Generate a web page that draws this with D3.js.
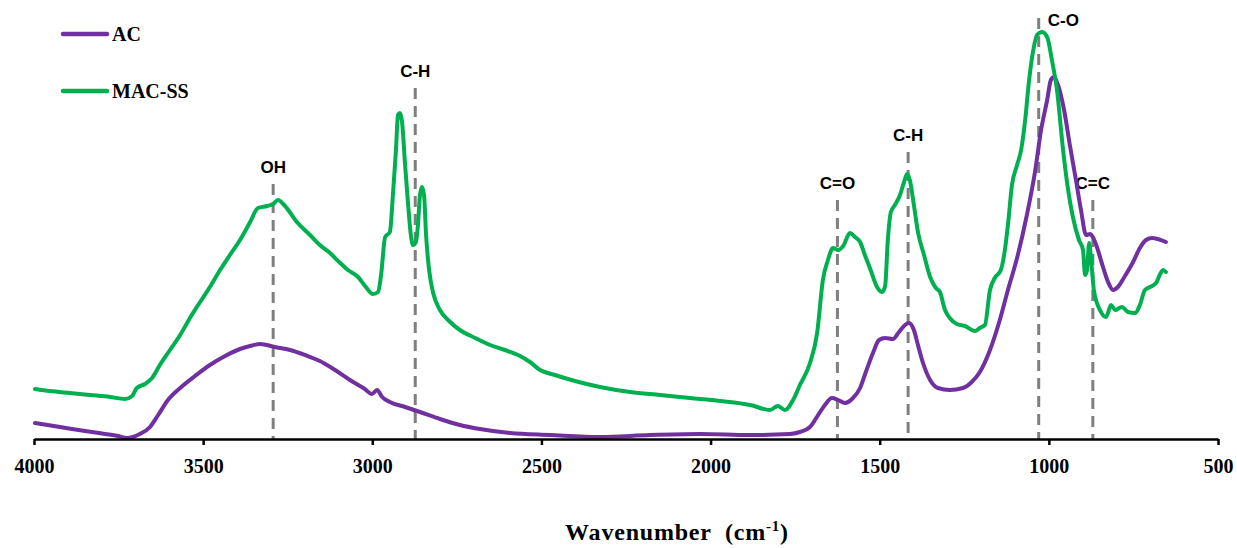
<!DOCTYPE html>
<html>
<head>
<meta charset="utf-8">
<script src="https://cdn.jsdelivr.net/npm/d3@7"></script>
<style>
  body { margin: 0; background: #fff; }
  svg { display: block; }
</style>
</head>
<body>
<div id="chart"></div>
<script>
// FTIR spectra, values as [wavenumber, relative intensity]
var acSeries = [
  [3997,16],[3923,12],[3849,8],[3790,5],[3752,3],[3725,1],[3687,5],[3657,12],[3633,24],[3604,39],
  [3568,51],[3524,63],[3480,74],[3435,83],[3391,90],[3361,93],[3332,95],[3288,92],[3243,89],[3199,84],
  [3155,78],[3110,69],[3066,59],[3022,50],[3001,45],[2986,49],[2971,42],[2948,37],[2903,32],[2859,27],
  [2800,20],[2741,14],[2682,10],[2593,6],[2475,4],[2327,2],[2179,4],[2031,5],[1883,4],[1765,5],
  [1736,7],[1706,12],[1682,24],[1662,34],[1641,41],[1623,39],[1603,36],[1579,41],[1558,51],[1541,67],
  [1520,86],[1502,99],[1484,101],[1461,100],[1443,107],[1425,114],[1414,116],[1399,109],[1387,94],[1372,76],
  [1351,59],[1328,51],[1293,49],[1254,51],[1228,57],[1204,67],[1174,89],[1145,119],[1121,149],[1094,181],
  [1065,224],[1041,267],[1023,309],[1005,339],[994,359],[985,362],[973,354],[955,329],[938,294],[920,259],
  [905,229],[890,204],[878,205],[870,202],[858,192],[840,172],[825,157],[810,149],[796,152],[775,163],
  [751,177],[731,191],[713,199],[695,201],[678,200],[654,197]
];

var macSeries = [
  [3997,50],[3953,48],[3894,46],[3834,44],[3775,42],[3731,40],[3710,43],[3696,51],[3672,55],[3651,61],
  [3628,74],[3598,89],[3568,104],[3539,121],[3509,137],[3480,152],[3450,169],[3421,184],[3391,199],[3361,217],
  [3338,231],[3311,233],[3293,235],[3279,239],[3258,233],[3223,217],[3184,204],[3155,194],[3125,186],[3095,176],
  [3072,169],[3042,162],[3019,152],[2998,145],[2983,147],[2974,164],[2962,202],[2948,207],[2939,244],[2930,289],
  [2924,324],[2918,326],[2912,317],[2903,274],[2894,234],[2886,204],[2880,194],[2871,197],[2865,214],[2859,244],
  [2853,252],[2847,244],[2841,204],[2832,169],[2820,146],[2800,129],[2770,117],[2741,109],[2696,101],[2652,94],
  [2608,89],[2563,83],[2534,77],[2504,69],[2460,64],[2401,58],[2327,52],[2238,47],[2149,44],[2061,41],
  [1972,38],[1883,34],[1824,29],[1801,33],[1780,29],[1756,39],[1736,54],[1706,76],[1685,106],[1668,159],
  [1653,179],[1638,191],[1623,189],[1608,193],[1588,206],[1573,202],[1558,197],[1544,184],[1529,171],[1508,152],
  [1493,147],[1484,153],[1476,199],[1467,227],[1455,234],[1440,244],[1428,257],[1419,265],[1411,259],[1399,234],
  [1387,207],[1369,184],[1351,162],[1334,151],[1322,147],[1307,129],[1293,121],[1272,115],[1248,113],[1218,108],
  [1204,111],[1189,114],[1174,149],[1160,161],[1142,169],[1130,189],[1121,214],[1109,254],[1094,274],[1082,289],
  [1070,319],[1059,357],[1047,387],[1035,404],[1020,407],[1005,402],[991,379],[976,349],[958,289],[943,249],
  [929,222],[911,199],[899,189],[893,164],[887,169],[881,196],[875,179],[867,149],[849,129],[831,122],
  [816,134],[804,129],[784,132],[766,127],[745,126],[731,134],[716,149],[701,152],[683,156],[671,165],
  [662,169],[654,167]
];

var seriesNames = ["AC", "MAC-SS"];
var seriesColors = ["#7030a0", "#00b050"];

var bandNames = ["OH", "C-H", "C=O", "C-H", "C-O", "C=C"];
var bandWavenumbers = [3293, 2873, 1625, 1416, 1030, 870];
var bandTops = [255, 351, 239, 287, 421, 239];

var xTicks = [4000, 3500, 3000, 2500, 2000, 1500, 1000, 500];

var width = 1237, height = 548;

var svg = d3.select("#chart")
    .append("svg")
    .attr("width", width)
    .attr("height", height);

var x = d3.scaleLinear().domain([4000, 500]).range([34, 1218]);
var y = d3.scaleLinear().domain([0, 420]).range([439, 19]);

// dashed band markers
var bands = bandNames.map(function(n, i) {
    return { name: n, wn: bandWavenumbers[i], top: bandTops[i] };
});

svg.append("g").selectAll("line")
    .data(bands)
    .enter().append("line")
    .attr("x1", function(d) { return x(d.wn); })
    .attr("x2", function(d) { return x(d.wn); })
    .attr("y1", function(d) { return y(d.top); })
    .attr("y2", y(0))
    .attr("stroke", "#7f7f7f")
    .attr("stroke-width", 3)
    .attr("stroke-dasharray", "11,7");

svg.append("g").selectAll("text")
    .data(bands)
    .enter().append("text")
    .attr("x", function(d) { return d.name == "C-O" ? x(d.wn) + 9 : x(d.wn); })
    .attr("y", function(d) { return y(d.top) - (d.name == "C-O" ? -8 : 11); })
    .attr("text-anchor", function(d) { return d.name == "C-O" ? "start" : "middle"; })
    .style("font-family", "'Liberation Sans', Arial, sans-serif")
    .style("font-weight", "bold")
    .style("font-size", "17px")
    .text(function(d) { return d.name; });

// spectra
var line = d3.line()
    .x(function(d) { return x(d[0]); })
    .y(function(d) { return y(d[1]); })
    .curve(d3.curveMonotoneX);

[acSeries, macSeries].forEach(function(s, i) {
    svg.append("path")
        .datum(s)
        .attr("fill", "none")
        .attr("stroke", seriesColors[i])
        .attr("stroke-width", 4)
        .attr("stroke-linejoin", "round")
        .attr("stroke-linecap", "round")
        .attr("d", line);
});

// x axis
var xAxis = svg.append("g")
    .attr("transform", "translate(0," + y(0) + ")")
    .call(d3.axisBottom(x).tickValues(xTicks).tickSize(6).tickSizeOuter(0).tickPadding(14).tickFormat(d3.format("d")));

xAxis.select(".domain").attr("stroke", "#000").attr("stroke-width", 2.5);
xAxis.selectAll(".tick line").attr("stroke", "#000").attr("stroke-width", 2.5);
xAxis.selectAll(".tick text")
    .style("font-family", "'Liberation Serif', 'Times New Roman', serif")
    .style("font-weight", "bold")
    .style("font-size", "20px")
    .attr("fill", "#000");

var title = svg.append("text")
    .attr("x", 677)
    .attr("y", 540)
    .attr("text-anchor", "middle")
    .style("font-family", "'Liberation Serif', 'Times New Roman', serif")
    .style("font-weight", "bold")
    .style("font-size", "24px")
    .style("letter-spacing", "0.8px")
    .attr("xml:space", "preserve");
title.append("tspan").text("Wavenumber  (cm");
title.append("tspan").attr("dy", -9).style("font-size", "15px").text("-1");
title.append("tspan").attr("dy", 9).text(")");

// legend
var legend = svg.append("g").selectAll("g")
    .data(seriesNames)
    .enter().append("g")
    .attr("transform", function(d, i) { return "translate(63," + (34 + i * 57) + ")"; });

legend.append("line")
    .attr("x1", 0).attr("x2", 44)
    .attr("stroke", function(d, i) { return seriesColors[i]; })
    .attr("stroke-width", 4.5)
    .attr("stroke-linecap", "round");

legend.append("text")
    .attr("x", 49)
    .attr("y", 7)
    .style("font-family", "'Liberation Serif', 'Times New Roman', serif")
    .style("font-weight", "bold")
    .style("font-size", "20px")
    .text(function(d) { return d; });
</script>
</body>
</html>
